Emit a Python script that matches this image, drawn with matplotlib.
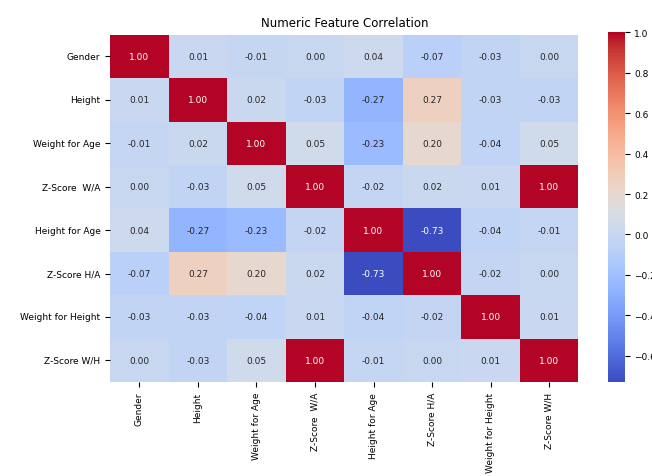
import numpy as np
import pandas as pd
import matplotlib
matplotlib.use('Agg')
import matplotlib.pyplot as plt
import seaborn as sns

features = ['Gender', 'Height', 'Weight for Age', 'Z-Score  W/A',
            'Height for Age', 'Z-Score H/A', 'Weight for Height', 'Z-Score W/H']

corr_values = [
    [1.00, 0.01, -0.01, 0.00, 0.04, -0.07, -0.03, 0.00],
    [0.01, 1.00, 0.02, -0.03, -0.27, 0.27, -0.03, -0.03],
    [-0.01, 0.02, 1.00, 0.05, -0.23, 0.20, -0.04, 0.05],
    [0.00, -0.03, 0.05, 1.00, -0.02, 0.02, 0.01, 1.00],
    [0.04, -0.27, -0.23, -0.02, 1.00, -0.73, -0.04, -0.01],
    [-0.07, 0.27, 0.20, 0.02, -0.73, 1.00, -0.02, 0.00],
    [-0.03, -0.03, -0.04, 0.01, -0.04, -0.02, 1.00, 0.01],
    [0.00, -0.03, 0.05, 1.00, -0.01, 0.00, 0.01, 1.00],
]

corr = pd.DataFrame(corr_values, index=features, columns=features)

fig = plt.figure(figsize=(6.52, 4.77), dpi=100)
ax = fig.add_axes([0.169, 0.197, 0.718, 0.728])
cax = fig.add_axes([0.933, 0.197, 0.025, 0.733])

sns.heatmap(corr, annot=True, fmt='.2f', cmap='coolwarm', ax=ax, cbar_ax=cax,
            annot_kws={'fontsize': 6.5})
ax.set_title('Numeric Feature Correlation', fontsize=8.5)
ax.tick_params(labelsize=6.5)
cax.tick_params(labelsize=6.5)
plt.setp(ax.get_xticklabels(), rotation=90)
plt.setp(ax.get_yticklabels(), rotation=0)

fig.savefig('out.png', dpi=100)
